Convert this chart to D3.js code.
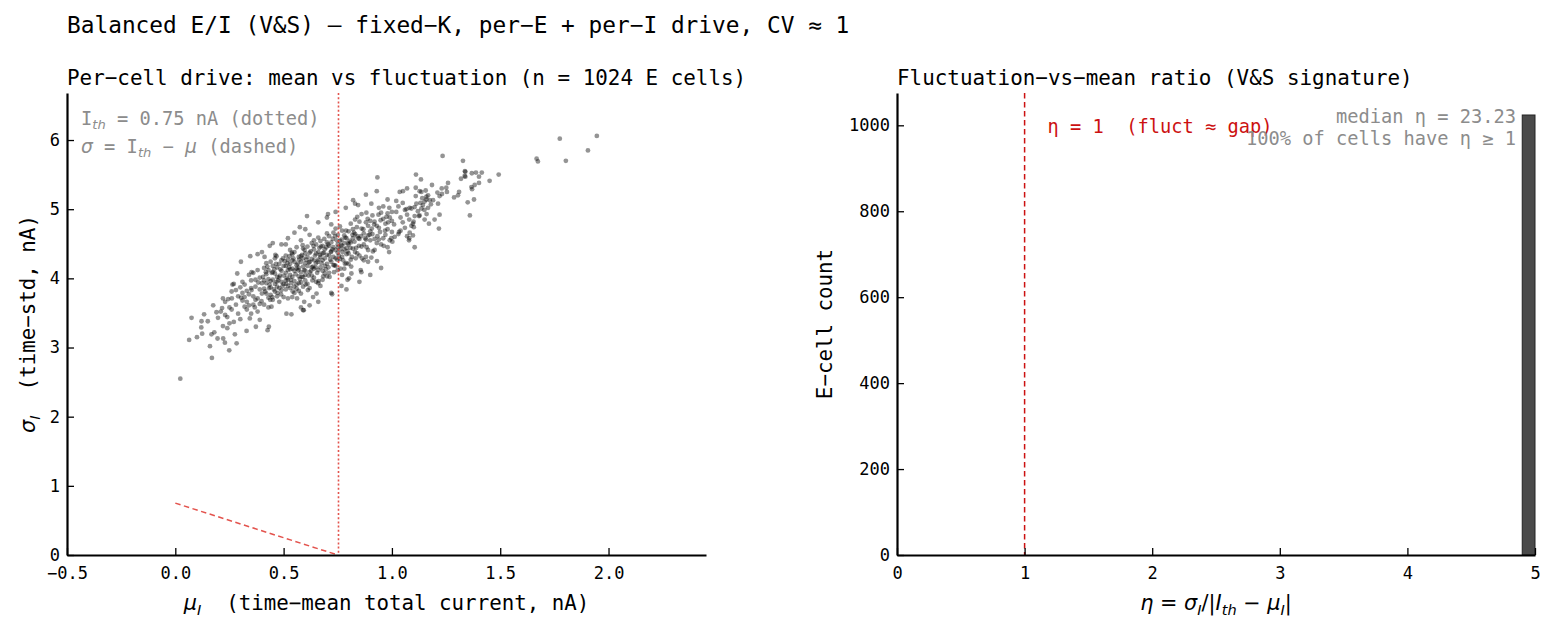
<!DOCTYPE html>
<html>
<head>
<meta charset="utf-8">
<script src="https://cdn.jsdelivr.net/npm/d3@7"></script>
<style>
  body { margin: 0; background: #fff; }
  text { font-family: "DejaVu Sans Mono", monospace; white-space: pre; }
</style>
</head>
<body>
<div class="container"></div>
<script>
const WIDTH = 1556;
const HEIGHT = 630;

// threshold current (nA)
const I_TH = 0.75;

const muTicks = [-0.5, 0, 0.5, 1, 1.5, 2];
const sigmaTicks = [0, 1, 2, 3, 4, 5, 6];
const etaTicks = [0, 1, 2, 3, 4, 5];
const countTicks = [0, 200, 400, 600, 800, 1000];

// eta histogram, bins of 0.1 from 0 to 5 (values clipped at 5)
const etaBinWidth = 0.1;
const etaHistCounts = [0,0,0,0,0,0,0,0,0,0, 0,0,0,0,0,0,0,0,0,0,
                       0,0,0,0,0,0,0,0,0,0, 0,0,0,0,0,0,0,0,0,0,
                       0,0,0,0,0,0,0,0,0,1024];
const etaMedian = 23.23;
const fracAboveOne = 100;

// per-cell [mu, sigma] (nA)
const sparseCells = [
  [1.775,6.02],[1.946,6.06],[1.905,5.85],[1.803,5.70],[1.668,5.73],[1.674,5.69],[1.234,5.77],[1.328,5.70],
  [1.493,5.50],[1.451,5.41],[1.415,5.53],[1.388,5.53],[1.369,5.52],[1.337,5.55],[1.319,5.44],[1.339,5.47],
  [1.402,5.47],[1.402,5.38],[1.382,5.35],[1.367,5.32],[1.370,5.29],[1.379,5.14],[1.350,5.10],[1.360,4.91],
  [1.310,5.25],[1.305,5.20],[1.287,5.17],[1.259,5.38],[1.254,5.25],[1.230,5.30],[1.231,5.22],[1.210,5.24],
  [1.220,5.19],[1.185,5.35],[1.134,5.43],[1.136,5.25],[1.167,5.20],[1.159,5.14],[1.151,5.11],[1.143,5.06],
  [1.136,5.01],[1.167,5.02],[1.213,5.08],[1.190,5.13],[1.128,4.91],[1.151,4.85],[1.171,4.79],[1.197,4.85],
  [1.220,4.92],[1.217,4.72],[1.111,5.50],[0.933,5.46],[1.339,5.54],[1.336,5.48],[1.251,5.31],[1.156,5.27],
  [1.128,5.26],[1.110,5.31],[1.070,5.30],[1.051,5.26],[1.036,5.25],[1.159,5.18],[1.174,5.13],[1.132,5.09],
  [1.113,5.08],[1.105,5.03],[1.082,5.02],[1.067,5.00],[1.125,4.90],[1.105,4.90],[1.097,4.79],[1.101,4.74],
  [1.082,4.66],[1.079,4.55],[1.105,4.45],[1.097,4.62],[1.033,4.67],[1.013,4.60],[1.002,4.53],[0.987,4.38],
  [0.931,4.25],[0.905,4.30],[0.890,4.24],[0.856,4.12],[0.859,4.09],[0.813,4.07],[0.802,4.00],[0.795,3.98],
  [0.767,3.89],[0.608,4.90],[0.575,4.74],[0.705,4.93],[0.787,5.02],[0.821,5.13],[0.844,5.06],[0.905,5.08],
  [0.882,4.95],[0.724,3.77],[0.593,3.54],[0.636,3.73],
  [0.023,2.55],[0.064,3.11],[0.169,2.85],[0.075,3.43],[0.121,3.38],[0.133,3.48],[0.175,3.61],[0.124,3.20],
  [0.167,3.19],[0.195,3.13],[0.221,3.13],[0.229,3.07],[0.249,2.96],[0.283,3.06],[0.275,3.19],[0.216,3.57],
  [0.244,3.70],[0.197,3.43],[0.303,4.24],[0.346,4.32],[0.286,4.07],[0.264,3.91],[0.261,3.71],[0.304,3.72],
  [0.352,4.09],[0.436,4.47],[0.467,4.32],[0.490,4.49],[0.510,4.49],[0.426,3.25],[0.432,3.30],[0.372,3.30],
  [0.329,3.24],[0.344,3.42],[0.390,3.40],[0.444,3.59],[0.513,3.49],[0.536,3.48],[0.590,3.54],[0.595,3.66],
  [0.652,3.78],[0.12,3.29],[0.15,3.38],[0.18,3.22],[0.19,3.51],[0.16,3.02],[0.10,3.15]
];

const coreCells = [
  [0.21,3.52],[0.22,3.31],[0.23,3.66],[0.24,3.44],[0.25,3.58],[0.26,3.81],[0.27,3.37],[0.28,3.62],[0.29,3.49],
  [0.22,3.71],[0.24,3.28],[0.26,3.55],[0.27,3.92],[0.29,3.74],[0.30,3.41],[0.28,3.83],[0.25,3.35],[0.23,3.47],
  [0.31,3.68],[0.32,3.91],[0.33,3.55],[0.34,3.77],[0.35,3.86],[0.36,3.62],[0.37,3.98],[0.38,3.71],[0.39,3.84],
  [0.31,3.95],[0.32,3.59],[0.33,3.82],[0.34,4.05],[0.35,3.49],[0.36,3.74],[0.37,3.88],[0.38,4.12],[0.39,3.63],
  [0.40,3.93],[0.31,3.79],[0.33,3.66],[0.35,3.97],[0.36,4.08],[0.38,3.52],[0.39,4.01],[0.32,3.73],[0.34,3.61],
  [0.37,3.69],[0.40,3.78],[0.30,3.87],
  [0.41,3.85],[0.42,4.06],[0.43,3.72],[0.44,3.96],[0.45,4.18],[0.46,3.81],[0.47,4.02],[0.48,3.66],[0.49,4.11],
  [0.50,3.92],[0.41,4.15],[0.42,3.78],[0.43,3.99],[0.44,4.24],[0.45,3.69],[0.46,4.07],[0.47,3.88],[0.48,4.21],
  [0.49,3.83],[0.50,4.04],[0.41,3.62],[0.42,3.93],[0.43,4.12],[0.44,3.76],[0.45,3.98],[0.46,4.29],[0.47,3.74],
  [0.48,4.01],[0.49,3.95],[0.50,4.18],[0.42,4.22],[0.44,3.87],[0.46,3.92],[0.48,3.86],[0.50,3.73],[0.43,3.58],
  [0.45,4.09],[0.47,4.16],[0.49,4.26],[0.41,3.97],
  [0.51,4.08],[0.52,3.89],[0.53,4.21],[0.54,4.02],[0.55,3.79],[0.56,4.14],[0.57,4.31],[0.58,3.94],[0.59,4.17],
  [0.60,4.05],[0.51,4.33],[0.52,4.12],[0.53,3.86],[0.54,4.26],[0.55,4.11],[0.56,3.91],[0.57,4.03],[0.58,4.24],
  [0.59,3.88],[0.60,4.36],[0.51,3.84],[0.52,4.27],[0.53,4.05],[0.54,3.73],[0.55,4.38],[0.56,4.19],[0.57,3.82],
  [0.58,4.09],[0.59,4.29],[0.60,3.97],[0.51,4.18],[0.53,4.41],[0.55,3.96],[0.57,4.15],[0.59,4.02],[0.52,3.98],
  [0.54,4.14],[0.56,4.45],[0.58,3.78],[0.60,4.22],[0.51,3.97],[0.53,4.13],[0.55,4.24],[0.57,3.93],[0.59,4.43],
  [0.52,3.71],[0.54,4.35],[0.56,3.85],[0.58,4.32],[0.60,4.11],
  [0.61,4.18],[0.62,4.37],[0.63,4.04],[0.64,4.26],[0.65,4.49],[0.66,4.12],[0.67,4.31],[0.68,3.98],[0.69,4.42],
  [0.70,4.21],[0.61,4.46],[0.62,4.09],[0.63,4.28],[0.64,4.55],[0.65,3.95],[0.66,4.38],[0.67,4.16],[0.68,4.47],
  [0.69,4.07],[0.70,4.34],[0.61,3.92],[0.62,4.24],[0.63,4.51],[0.64,4.01],[0.65,4.22],[0.66,4.59],[0.67,3.89],
  [0.68,4.26],[0.69,4.29],[0.70,4.52],[0.62,4.63],[0.64,4.14],[0.66,4.27],[0.68,4.36],[0.70,4.03],[0.61,4.31],
  [0.63,4.16],[0.65,4.36],[0.67,4.54],[0.69,4.18],[0.62,3.86],[0.66,3.93],[0.68,4.11],[0.64,4.42],[0.70,4.65],
  [0.71,4.33],[0.72,4.52],[0.73,4.19],[0.74,4.41],[0.75,4.63],[0.76,4.28],[0.77,4.47],[0.78,4.14],[0.79,4.58],
  [0.80,4.36],[0.71,4.61],[0.72,4.24],[0.73,4.45],[0.74,4.72],[0.75,4.12],[0.76,4.54],[0.77,4.31],[0.78,4.62],
  [0.79,4.22],[0.80,4.49],[0.71,4.08],[0.72,4.39],[0.73,4.66],[0.74,4.18],[0.75,4.37],[0.76,4.75],[0.77,4.05],
  [0.78,4.42],[0.79,4.44],[0.80,4.68],[0.72,4.78],[0.74,4.29],[0.76,4.42],[0.78,4.51],[0.80,4.21],[0.73,4.31],
  [0.75,4.49],[0.77,4.69],[0.79,4.35],[0.71,4.47],
  [0.81,4.52],[0.82,4.71],[0.83,4.38],[0.84,4.61],[0.85,4.82],[0.86,4.46],[0.87,4.65],[0.88,4.31],[0.89,4.76],
  [0.90,4.55],[0.81,4.79],[0.82,4.43],[0.83,4.64],[0.84,4.89],[0.85,4.33],[0.86,4.72],[0.87,4.49],[0.88,4.81],
  [0.89,4.41],[0.90,4.68],[0.81,4.27],[0.83,4.85],[0.85,4.57],[0.87,4.26],[0.89,4.62],[0.82,4.58],[0.84,4.36],
  [0.86,4.93],[0.88,4.56],[0.90,4.83],
  [0.91,4.64],[0.92,4.82],[0.93,4.51],[0.94,4.73],[0.95,4.95],[0.96,4.58],[0.97,4.79],[0.98,4.45],[0.99,4.88],
  [1.00,4.67],[0.91,4.91],[0.92,4.57],[0.93,4.76],[0.94,5.02],[0.95,4.49],[0.96,4.86],[0.97,4.63],[0.98,4.94],
  [0.99,4.55],[1.00,4.83],[0.92,4.41],[0.94,4.56],[0.96,5.04],[0.98,4.71],[1.00,4.96],
  [1.01,4.78],[1.02,4.96],[1.03,4.64],[1.04,4.88],[1.05,5.09],[1.06,4.73],[1.07,4.92],[1.08,4.58],[1.09,5.01],
  [1.10,4.82],[1.02,5.12],[1.04,4.69],[1.06,4.99],[1.08,4.85],[1.03,5.04],[1.05,4.81],[1.07,4.61],[1.09,4.76],
  [1.12,4.97],[1.14,5.16],[1.16,4.93],[1.18,5.07],[1.11,5.19],[1.15,4.99],
  [0.40,4.38],[0.45,4.51],[0.52,4.58],[0.55,4.66],[0.60,4.71],[0.58,4.55],[0.38,4.35],[0.66,4.81],[0.70,4.88],
  [0.74,4.96],[0.83,5.08],[0.88,5.21],[0.93,5.26],[0.98,5.14],
  [0.58,3.58],[0.62,3.61],[0.66,3.66],[0.72,3.79],[0.79,3.84],[0.85,3.95],[0.90,4.05],[0.95,4.15],
  [0.405,4.02],[0.415,3.81],[0.425,4.17],[0.435,3.91],[0.445,4.08],[0.455,3.84],[0.465,4.21],[0.475,3.97],
  [0.485,4.13],[0.495,3.89],[0.505,4.25],[0.515,4.01],[0.525,4.16],[0.535,3.93],[0.545,4.29],[0.555,4.06],
  [0.565,4.21],[0.575,3.99],[0.585,4.34],[0.595,4.12],[0.605,4.27],[0.615,4.04],[0.625,4.39],[0.635,4.17],
  [0.645,4.33],[0.655,4.08],[0.665,4.44],[0.675,4.22],[0.685,4.37],[0.695,4.13],[0.705,4.49],[0.715,4.27],
  [0.725,4.42],[0.735,4.19],[0.745,4.55],[0.755,4.33],[0.765,4.48],[0.775,4.26],[0.785,4.59],[0.795,4.39],
  [0.805,4.54],[0.815,4.31],[0.825,4.66],[0.835,4.44],[0.845,4.58],
  [0.412,4.31],[0.438,3.69],[0.462,4.34],[0.488,3.77],[0.512,3.92],[0.538,4.37],[0.562,3.71],[0.588,4.48],
  [0.612,3.83],[0.638,4.47],[0.662,3.96],[0.688,4.57],[0.712,4.02],[0.738,4.61],[0.762,4.14],[0.788,4.69],
  [0.812,4.17],[0.838,4.74],[0.862,4.29],[0.888,4.86],[0.912,4.39],[0.938,4.92],[0.962,4.47],[0.988,5.02],
  [0.352,3.83],[0.367,3.58],[0.383,3.94],[0.398,3.67],[0.418,4.09],[0.433,3.86],[0.448,3.73],[0.468,3.95],
  [0.483,4.04],[0.497,4.29],[0.518,4.22],[0.533,3.98],[0.548,3.88],[0.568,4.12],[0.583,4.02],[0.597,4.41],
  [0.618,4.23],[0.633,3.97],[0.648,4.16],[0.668,4.34],[0.683,4.03],[0.697,4.45],[0.718,4.38],[0.733,4.09],
  [0.748,4.27],[0.768,4.56],[0.783,4.21],[0.797,4.51],[0.818,4.63],[0.833,4.29],[0.848,4.47],[0.868,4.71],
  [0.883,4.45],[0.897,4.63],[0.918,4.78],[0.933,4.61],[0.948,4.84],[0.968,4.69],[0.983,4.81],[0.997,4.58],
  [0.457,4.13],[0.472,3.79],[0.527,4.32],[0.542,3.81],[0.572,4.27],[0.602,3.91],[0.627,4.11],[0.657,4.24],
  [0.672,4.46],[0.707,4.16],[0.727,4.57],[0.752,4.45],[0.772,4.38],[0.808,4.44],[0.827,4.53],[0.857,4.61],
  [0.877,4.58],[0.907,4.72],[0.945,4.67],[0.975,4.89]
];

const leftBox = {x0: 67, x1: 706, y0: 93, y1: 555};
const rightBox = {x0: 897, x1: 1535, y0: 93, y1: 555};

const MONO = '"DejaVu Sans Mono", monospace';
const MATH = '"DejaVu Sans", sans-serif';
const GRAY = '#8c8c8c';
const RED_LINE = '#e0403a';

var minus = function(s) { return String(s).replace('-', '\u2212'); };

// parts: [text, kind] with kind: 'm' mono, 'i' italic math, 'u' upright math, 'si' italic subscript
var richText = function(sel, parts, size) {
    var shift = 0;
    parts.forEach(function(p) {
        var t = sel.append('tspan').text(p[0]);
        var kind = p[1];
        if (kind === 'm') t.attr('font-family', MONO);
        if (kind === 'i' || kind === 'si') t.attr('font-family', MATH).attr('font-style', 'italic');
        if (kind === 'u') t.attr('font-family', MATH);
        var sub = kind === 'si';
        if (sub) t.attr('font-size', size * 0.7);
        var want = sub ? size * 0.22 : 0;
        if (want !== shift) { t.attr('dy', want - shift); shift = want; }
    });
    return sel;
};

var styleAxis = function(g) {
    g.select('.domain').attr('stroke', '#000').attr('stroke-width', 2.2);
    g.selectAll('.tick line').attr('stroke', '#000').attr('stroke-width', 1.3);
    g.selectAll('.tick text').attr('font-family', MONO).attr('font-size', 17).attr('fill', '#000');
};

var intFmt = function(d) { return String(d); };

var svg = d3.select('.container').append('svg')
    .attr('width', WIDTH)
    .attr('height', HEIGHT);

svg.append('text')
    .attr('x', 67).attr('y', 33)
    .attr('font-size', 22.8)
    .text('Balanced E/I (V&S) \u2014 fixed\u2212K, per\u2212E + per\u2212I drive, CV \u2248 1');

// ---------- left: mu vs sigma scatter ----------
var xMu = d3.scaleLinear().domain([-0.5, 2.45]).range([leftBox.x0, leftBox.x1]);
var ySig = d3.scaleLinear().domain([0, 6.68]).range([leftBox.y1, leftBox.y0]);

svg.append('text')
    .attr('x', leftBox.x0).attr('y', 85)
    .attr('font-size', 20.9)
    .text('Per\u2212cell drive: mean vs fluctuation (n = 1024 E cells)');

var cells = sparseCells.concat(coreCells);
svg.append('g').selectAll('circle')
    .data(cells)
    .enter()
    .append('circle')
    .attr('cx', function(d) { return xMu(d[0]); })
    .attr('cy', function(d) { return ySig(d[1]); })
    .attr('r', 2.4)
    .attr('fill', '#000')
    .attr('fill-opacity', 0.42);

var thX = Math.round(xMu(I_TH)) + 0.5;
svg.append('line')
    .attr('x1', thX).attr('x2', thX)
    .attr('y1', ySig(6.68)).attr('y2', ySig(0))
    .attr('stroke', RED_LINE).attr('stroke-opacity', 0.9)
    .attr('stroke-width', 1.6).attr('stroke-dasharray', '2,2.2');

var gapLine = d3.line()
    .x(function(d) { return xMu(d[0]); })
    .y(function(d) { return ySig(d[1]); });
svg.append('path')
    .datum([[0, I_TH], [I_TH, 0]])
    .attr('d', gapLine)
    .attr('fill', 'none')
    .attr('stroke', RED_LINE).attr('stroke-opacity', 0.9)
    .attr('stroke-width', 1.5).attr('stroke-dasharray', '5.5,3.5');

svg.append('g')
    .attr('transform', 'translate(0,' + leftBox.y1 + ')')
    .call(d3.axisBottom(xMu).tickValues(muTicks).tickSizeInner(-7).tickSizeOuter(0).tickPadding(12)
        .tickFormat(function(d) { return minus(d3.format('.1f')(d)); }))
    .call(styleAxis);

svg.append('g')
    .attr('transform', 'translate(' + leftBox.x0 + ',0)')
    .call(d3.axisLeft(ySig).tickValues(sigmaTicks).tickSizeInner(-7).tickSizeOuter(0).tickPadding(7)
        .tickFormat(intFmt))
    .call(styleAxis);

var ann1 = svg.append('text').attr('x', 81).attr('y', 125).attr('font-size', 18.7).attr('fill', GRAY);
richText(ann1, [['I', 'm'], ['th', 'si'], [' = ' + I_TH + ' nA (dotted)', 'm']], 18.7);
var ann2 = svg.append('text').attr('x', 81).attr('y', 153).attr('font-size', 18.7).attr('fill', GRAY);
richText(ann2, [['\u03c3', 'i'], [' = I', 'm'], ['th', 'si'], [' \u2212 ', 'm'], ['\u03bc', 'i'], [' (dashed)', 'm']], 18.7);

var xl = svg.append('text').attr('x', (leftBox.x0 + leftBox.x1) / 2).attr('y', 610)
    .attr('text-anchor', 'middle').attr('font-size', 20.8);
richText(xl, [['\u03bc', 'i'], ['I', 'si'], ['  (time\u2212mean total current, nA)', 'm']], 20.8);

var yl = svg.append('text')
    .attr('transform', 'translate(35,' + ((leftBox.y0 + leftBox.y1) / 2) + ') rotate(-90)')
    .attr('text-anchor', 'middle').attr('font-size', 20.8);
richText(yl, [['\u03c3', 'i'], ['I', 'si'], ['  (time\u2212std, nA)', 'm']], 20.8);

// ---------- right: eta histogram ----------
var xEta = d3.scaleLinear().domain([0, 5]).range([rightBox.x0, rightBox.x1]);
var yCnt = d3.scaleLinear().domain([0, 1075.2]).range([rightBox.y1, rightBox.y0]);

svg.append('text')
    .attr('x', rightBox.x0).attr('y', 85)
    .attr('font-size', 20.9)
    .text('Fluctuation\u2212vs\u2212mean ratio (V&S signature)');

var bins = etaHistCounts.map(function(c, i) { return {lo: i * etaBinWidth, count: c}; })
    .filter(function(b) { return b.count > 0; });

svg.append('g').selectAll('rect')
    .data(bins)
    .enter()
    .append('rect')
    .attr('x', function(d) { return xEta(d.lo); })
    .attr('y', function(d) { return yCnt(d.count); })
    .attr('width', function(d) { return xEta(d.lo + etaBinWidth) - xEta(d.lo); })
    .attr('height', function(d) { return yCnt(0) - yCnt(d.count); })
    .attr('fill', '#4a4a4a')
    .attr('stroke', '#222')
    .attr('stroke-width', 1);

svg.append('line')
    .attr('x1', xEta(1)).attr('x2', xEta(1))
    .attr('y1', yCnt(1075.2)).attr('y2', yCnt(0))
    .attr('stroke', '#cc1111').attr('stroke-width', 1.5).attr('stroke-dasharray', '5.5,3.5');

svg.append('g')
    .attr('transform', 'translate(0,' + rightBox.y1 + ')')
    .call(d3.axisBottom(xEta).tickValues(etaTicks).tickSizeInner(-7).tickSizeOuter(0).tickPadding(12)
        .tickFormat(intFmt))
    .call(styleAxis);

svg.append('g')
    .attr('transform', 'translate(' + rightBox.x0 + ',0)')
    .call(d3.axisLeft(yCnt).tickValues(countTicks).tickSizeInner(-7).tickSizeOuter(0).tickPadding(7)
        .tickFormat(intFmt))
    .call(styleAxis);

svg.append('text')
    .attr('x', xEta(1.18)).attr('y', 133)
    .attr('font-size', 18.7).attr('fill', '#cc1111')
    .text('\u03b7 = 1  (fluct \u2248 gap)');

svg.append('text')
    .attr('x', 1516).attr('y', 123)
    .attr('text-anchor', 'end').attr('font-size', 18.7).attr('fill', GRAY)
    .text('median \u03b7 = ' + etaMedian.toFixed(2));
svg.append('text')
    .attr('x', 1516).attr('y', 145)
    .attr('text-anchor', 'end').attr('font-size', 18.7).attr('fill', GRAY)
    .text(fracAboveOne + '% of cells have \u03b7 \u2265 1');

var xr = svg.append('text').attr('x', (rightBox.x0 + rightBox.x1) / 2).attr('y', 610)
    .attr('text-anchor', 'middle').attr('font-size', 20.8);
richText(xr, [['\u03b7', 'i'], [' = ', 'u'], ['\u03c3', 'i'], ['I', 'si'], ['/|', 'u'], ['I', 'i'], ['th', 'si'],
    [' \u2212 ', 'u'], ['\u03bc', 'i'], ['I', 'si'], ['|', 'u']], 20.8);

svg.append('text')
    .attr('transform', 'translate(832,' + ((rightBox.y0 + rightBox.y1) / 2) + ') rotate(-90)')
    .attr('text-anchor', 'middle').attr('font-size', 20.8)
    .text('E\u2212cell count');
</script>
</body>
</html>
